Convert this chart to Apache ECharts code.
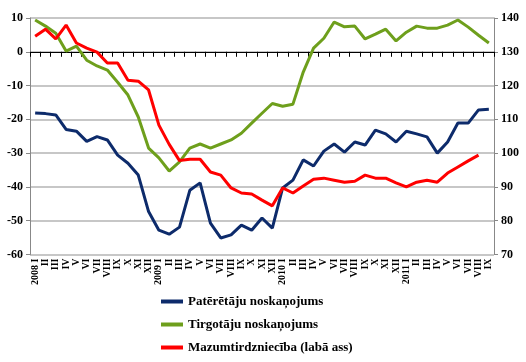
<!DOCTYPE html>
<html>
<head>
<meta charset="utf-8">
<script src="https://cdn.jsdelivr.net/npm/echarts@6/dist/echarts.min.js"></script>
<style>html,body{margin:0;padding:0;background:#fff}#c{width:526px;height:362px}</style>
</head>
<body>
<div id="c"></div>
<script>
var categories = [
  "2008 I","II","III","IV","V","VI","VII","VIII","IX","X","XI","XII",
  "2009 I","II","III","IV","V","VI","VII","VIII","IX","X","XI","XII",
  "2010 I","II","III","IV","V","VI","VII","VIII","IX","X","XI","XII",
  "2011 I","II","III","IV","V","VI","VII","VIII","IX"
];
var consumerConfidence = [
  -18.1,-18.3,-18.7,-23,-23.5,-26.5,-25.1,-26.1,-30.6,-33,-36.5,-47.3,
  -52.8,-54,-51.9,-41,-38.8,-50.7,-55.1,-54.2,-51.3,-52.8,-49.2,-52.2,
  -40.3,-38,-32,-33.8,-29.4,-27.3,-29.7,-26.7,-27.6,-23.2,-24.3,-26.7,
  -23.5,-24.3,-25.2,-30,-26.7,-21.1,-21.1,-17.2,-17
];
var retailerConfidence = [
  9.4,7.6,5.5,0.2,1.7,-2.5,-4.2,-5.4,-9,-12.8,-19.3,-28.5,
  -31.4,-35.3,-32.6,-28.5,-27.3,-28.5,-27.3,-26.1,-24.1,-21.1,-18.2,-15.3,
  -16.1,-15.5,-6,1.1,4,8.8,7.4,7.6,3.8,5.2,6.7,3.2,
  5.8,7.6,7,7,7.9,9.4,7.3,4.9,2.6
];
var retailTrade = [
  134.6,136.7,133.8,137.9,132.6,131.1,129.9,126.7,126.7,121.6,121.3,118.7,
  108.3,102.6,97.8,98.2,98.2,94.4,93.5,89.7,88.2,87.9,86.1,84.4,
  89.7,88.2,90.3,92.3,92.6,92,91.4,91.7,93.5,92.6,92.6,91.2,
  90,91.4,92,91.4,94.1,95.9,97.7,99.4,null
];
var seriesNames = ["Patērētāju noskaņojums","Tirgotāju noskaņojums","Mazumtirdzniecība (labā ass)"];

var font = "'Liberation Serif','Times New Roman',serif";
var chart = echarts.init(document.getElementById('c'), null, {renderer:'canvas'});
chart.setOption({
  animation:false,
  backgroundColor:'#fff',
  grid:{left:30,right:32,top:18,bottom:107.5,containLabel:false},
  legend:{
    orient:'vertical', left:156, top:290, itemGap:10,
    itemWidth:22, itemHeight:4, icon:'rect',
    textStyle:{fontFamily:font,fontWeight:'bold',fontSize:13,color:'#000'},
    data:seriesNames
  },
  xAxis:[{
    type:'category', data:categories, position:'bottom', boundaryGap:true,
    axisLine:{show:false,onZero:false}, axisTick:{show:false},
    axisLabel:{interval:0,rotate:90,fontFamily:font,fontWeight:'bold',fontSize:10,color:'#000',margin:4},
    splitLine:{show:false}
  },{
    type:'category', data:categories, position:'bottom', boundaryGap:true,
    axisLine:{show:true,onZero:true,onZeroAxisIndex:0,lineStyle:{color:'#000',width:1}},
    axisTick:{show:true,interval:0,length:5,lineStyle:{color:'#000'}},
    axisLabel:{show:false}, splitLine:{show:false}
  }],
  yAxis:[{
    type:'value', min:-60, max:10, interval:10, position:'left',
    axisLine:{show:true,lineStyle:{color:'#888',width:1}},
    axisTick:{show:true,length:4,lineStyle:{color:'#888'}},
    axisLabel:{fontFamily:font,fontWeight:'bold',fontSize:12,color:'#000',margin:7},
    splitLine:{show:true,lineStyle:{color:'#B4B4B4',width:1.5}}
  },{
    type:'value', min:70, max:140, interval:10, position:'right',
    axisLine:{show:true,lineStyle:{color:'#888',width:1}},
    axisTick:{show:true,length:4,lineStyle:{color:'#888'}},
    axisLabel:{fontFamily:font,fontWeight:'bold',fontSize:12,color:'#000',margin:7},
    splitLine:{show:false}
  }],
  series:[{
    name:seriesNames[0], type:'line', xAxisIndex:0, yAxisIndex:0, data:consumerConfidence,
    symbol:'none', lineStyle:{width:3,color:'#0D2B6B'}, itemStyle:{color:'#0D2B6B'}
  },{
    name:seriesNames[1], type:'line', xAxisIndex:0, yAxisIndex:0, data:retailerConfidence,
    symbol:'none', lineStyle:{width:3,color:'#6E9F1C'}, itemStyle:{color:'#6E9F1C'}
  },{
    name:seriesNames[2], type:'line', xAxisIndex:0, yAxisIndex:1, data:retailTrade,
    symbol:'none', lineStyle:{width:3,color:'#FF0000'}, itemStyle:{color:'#FF0000'}
  }]
});
</script>
</body>
</html>
